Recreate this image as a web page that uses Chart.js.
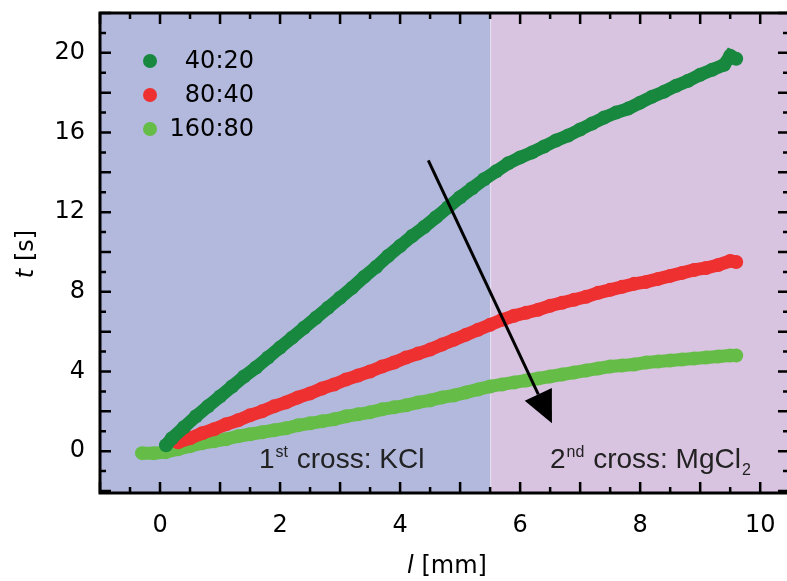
<!DOCTYPE html>
<html>
<head>
<meta charset="utf-8">
<script src="https://cdn.jsdelivr.net/npm/chart.js@4.4.1/dist/chart.umd.min.js"></script>
<style>
  html, body { margin: 0; padding: 0; background: #fff; overflow: hidden; }
  #wrap { width: 787px; height: 581px; overflow: hidden; }
  #chart { display: block; }
</style>
</head>
<body>
<div id="wrap"><canvas id="chart" width="796" height="581"></canvas></div>
<script>
// ---- data ----
const labels = ["40:20", "80:40", "160:80"];

const x4020 = [0.1, 0.2, 0.4, 0.6, 0.8, 1.0, 1.2, 1.4, 1.6, 1.8, 2.0, 2.2, 2.4, 2.6, 2.8, 3.0, 3.2, 3.4, 3.6, 3.8,
  4.0, 4.2, 4.4, 4.6, 4.8, 5.0, 5.2, 5.4, 5.6, 5.8, 6.0, 6.2, 6.4, 6.6, 6.8, 7.0, 7.2, 7.4, 7.6, 7.8,
  8.0, 8.2, 8.4, 8.6, 8.8, 9.0, 9.2, 9.4, 9.5, 9.6];
const y4020 = [0.3, 0.65, 1.2, 1.75, 2.25, 2.75, 3.25, 3.75, 4.2, 4.7, 5.2, 5.7, 6.2, 6.7, 7.2, 7.7, 8.2, 8.75, 9.25, 9.8,
  10.3, 10.8, 11.25, 11.75, 12.25, 12.75, 13.2, 13.65, 14.05, 14.45, 14.75, 15.0, 15.3, 15.6, 15.85, 16.15, 16.45, 16.75, 17.0, 17.2,
  17.5, 17.8, 18.05, 18.35, 18.6, 18.9, 19.15, 19.4, 19.85, 19.7];

const x8040 = [0.3, 0.5, 0.7, 0.9, 1.1, 1.3, 1.5, 1.7, 1.9, 2.1, 2.3, 2.5, 2.7, 2.9, 3.1, 3.3, 3.5, 3.7, 3.9, 4.1,
  4.3, 4.5, 4.7, 4.9, 5.1, 5.3, 5.5, 5.7, 5.9, 6.1, 6.3, 6.5, 6.7, 6.9, 7.1, 7.3, 7.5, 7.7, 7.9, 8.1,
  8.3, 8.5, 8.7, 8.9, 9.1, 9.3, 9.5, 9.6];
const y8040 = [0.45, 0.65, 0.9, 1.1, 1.35, 1.55, 1.8, 2.0, 2.25, 2.45, 2.7, 2.9, 3.15, 3.35, 3.6, 3.8, 4.0, 4.25, 4.45, 4.7,
  4.9, 5.1, 5.35, 5.6, 5.85, 6.1, 6.35, 6.6, 6.8, 6.95, 7.1, 7.3, 7.45, 7.6, 7.75, 7.95, 8.1, 8.25, 8.4, 8.5,
  8.65, 8.8, 8.95, 9.1, 9.2, 9.35, 9.55, 9.5];

const x16080 = [-0.3, -0.1, 0.1, 0.3, 0.5, 0.7, 0.9, 1.1, 1.3, 1.5, 1.7, 1.9, 2.1, 2.3, 2.5, 2.7, 2.9, 3.1, 3.3, 3.5,
  3.7, 3.9, 4.1, 4.3, 4.5, 4.7, 4.9, 5.1, 5.3, 5.5, 5.7, 5.9, 6.1, 6.3, 6.5, 6.7, 6.9, 7.1, 7.3, 7.5,
  7.7, 7.9, 8.1, 8.3, 8.5, 8.7, 8.9, 9.1, 9.3, 9.5, 9.6];
const y16080 = [-0.1, -0.1, -0.05, 0.1, 0.25, 0.4, 0.5, 0.6, 0.75, 0.85, 0.95, 1.05, 1.15, 1.3, 1.4, 1.5, 1.6, 1.75, 1.85, 1.95,
  2.1, 2.2, 2.3, 2.45, 2.55, 2.7, 2.8, 2.95, 3.1, 3.25, 3.35, 3.45, 3.55, 3.65, 3.75, 3.85, 3.95, 4.05, 4.15, 4.25,
  4.3, 4.35, 4.45, 4.5, 4.55, 4.6, 4.65, 4.7, 4.75, 4.8, 4.8];

const xTicks = [0, 2, 4, 6, 8, 10];
const yTicks = [0, 4, 8, 12, 16, 20];

// region split (1st cross / 2nd cross) and arrow (data units)
const splitX = 5.5;
const arrowFrom = [4.47, 14.6];
const arrowTo = [6.53, 1.4];

const colors = ["#17883e", "#ee3030", "#65bd47"];
const FONT = "'DejaVu Sans', sans-serif";       // axes, legend
const FONT_NOTE = "'Liberation Sans', Arial, sans-serif"; // region labels

function pts(xs, ys) {
  return xs.map((x, i) => ({ x: x, y: ys[i] }));
}

function series(i, xs, ys) {
  return {
    label: labels[i],
    data: pts(xs, ys),
    showLine: true,
    borderColor: colors[i],
    borderWidth: 13,
    backgroundColor: colors[i],
    pointRadius: 7,
    pointBorderWidth: 0,
    pointHoverRadius: 7
  };
}

// ---- background, frame, ticks, annotations ----
const decor = {
  id: "decor",
  beforeDatasetsDraw(chart) {
    const { ctx, chartArea: a, scales: { x } } = chart;
    const sx = x.getPixelForValue(splitX);
    ctx.save();
    ctx.fillStyle = "#b2b9dd";
    ctx.fillRect(a.left, a.top, sx - a.left, a.bottom - a.top);
    ctx.fillStyle = "#d8c4e0";
    ctx.fillRect(sx, a.top, a.right - sx, a.bottom - a.top);
    ctx.strokeStyle = "#e6e2f0";
    ctx.lineWidth = 1;
    ctx.beginPath();
    ctx.moveTo(sx + 0.5, a.top);
    ctx.lineTo(sx + 0.5, a.bottom);
    ctx.stroke();
    ctx.restore();
  },
  afterDatasetsDraw(chart) {
    const { ctx, chartArea: a, scales: { x, y } } = chart;
    ctx.save();

    // inward ticks on all four sides
    ctx.strokeStyle = "#000";
    ctx.lineWidth = 2.5;
    ctx.beginPath();
    for (let v = -1; v <= x.max; v += 0.5) {
      const px = x.getPixelForValue(v);
      const len = Math.abs(v - Math.round(v)) < 1e-6 ? 11 : 6;
      ctx.moveTo(px, a.bottom); ctx.lineTo(px, a.bottom - len);
      ctx.moveTo(px, a.top); ctx.lineTo(px, a.top + len);
    }
    for (let v = -2; v <= 22; v += 1) {
      const py = y.getPixelForValue(v);
      const len = v % 2 === 0 ? 11 : 6;
      ctx.moveTo(a.left, py); ctx.lineTo(a.left + len, py);
      ctx.moveTo(a.right, py); ctx.lineTo(a.right - len, py);
    }
    ctx.stroke();

    // frame
    ctx.lineWidth = 3;
    ctx.strokeRect(a.left, a.top, a.right - a.left, a.bottom - a.top);

    // arrow
    const x0 = x.getPixelForValue(arrowFrom[0]), y0 = y.getPixelForValue(arrowFrom[1]);
    const x1 = x.getPixelForValue(arrowTo[0]), y1 = y.getPixelForValue(arrowTo[1]);
    const ang = Math.atan2(y1 - y0, x1 - x0);
    const hl = 32, hw = 15;
    const bx = x1 - hl * Math.cos(ang), by = y1 - hl * Math.sin(ang);
    ctx.lineWidth = 3;
    ctx.beginPath();
    ctx.moveTo(x0, y0);
    ctx.lineTo(bx, by);
    ctx.stroke();
    ctx.fillStyle = "#000";
    ctx.beginPath();
    ctx.moveTo(x1, y1);
    ctx.lineTo(bx + hw * Math.sin(ang), by - hw * Math.cos(ang));
    ctx.lineTo(bx - hw * Math.sin(ang), by + hw * Math.cos(ang));
    ctx.closePath();
    ctx.fill();

    // legend
    ctx.textAlign = "right";
    ctx.textBaseline = "middle";
    ctx.font = "24px " + FONT;
    labels.forEach((lab, i) => {
      const ly = 61 + i * 34;
      ctx.fillStyle = colors[i];
      ctx.beginPath();
      ctx.arc(150, ly, 7, 0, Math.PI * 2);
      ctx.fill();
      ctx.fillStyle = "#000";
      ctx.fillText(lab, 254, ly + 1);
    });

    // region labels
    ctx.fillStyle = "#222";
    ctx.textAlign = "left";
    ctx.textBaseline = "alphabetic";
    let tx = 259;
    const base = 468;
    ctx.font = "28px " + FONT_NOTE;
    ctx.fillText("1", tx, base); tx += ctx.measureText("1").width + 1;
    ctx.font = "16px " + FONT_NOTE;
    ctx.fillText("st", tx, base - 11); tx += ctx.measureText("st").width + 1;
    ctx.font = "28px " + FONT_NOTE;
    ctx.fillText(" cross: KCl", tx, base);

    tx = 550;
    ctx.fillText("2", tx, base); tx += ctx.measureText("2").width + 1;
    ctx.font = "16px " + FONT_NOTE;
    ctx.fillText("nd", tx, base - 11); tx += ctx.measureText("nd").width + 1;
    ctx.font = "28px " + FONT_NOTE;
    ctx.fillText(" cross: MgCl", tx, base); tx += ctx.measureText(" cross: MgCl").width + 1;
    ctx.font = "16px " + FONT_NOTE;
    ctx.fillText("2", tx, base + 7);

    // axis titles
    ctx.fillStyle = "#000";
    const xl = "l", xr = " [mm]";
    ctx.font = "24px " + FONT;
    const wr = ctx.measureText(xr).width;
    ctx.font = "italic 24px " + FONT;
    const wl = ctx.measureText(xl).width;
    let sx = 447 - (wl + wr) / 2;
    ctx.fillText(xl, sx, 573);
    ctx.font = "24px " + FONT;
    ctx.fillText(xr, sx + wl, 573);

    ctx.translate(33, 254);
    ctx.rotate(-Math.PI / 2);
    ctx.font = "italic 24px " + FONT;
    const w1 = ctx.measureText("t").width;
    ctx.font = "24px " + FONT;
    const w2 = ctx.measureText(" [s]").width;
    sx = -(w1 + w2) / 2;
    ctx.font = "italic 24px " + FONT;
    ctx.fillText("t", sx, 0);
    ctx.font = "24px " + FONT;
    ctx.fillText(" [s]", sx + w1, 0);

    ctx.restore();
  }
};

const chart = new Chart(document.getElementById("chart"), {
  type: "scatter",
  data: {
    datasets: [
      series(0, x4020, y4020),
      series(1, x8040, y8040),
      series(2, x16080, y16080)
    ]
  },
  options: {
    responsive: false,
    animation: false,
    events: [],
    layout: { padding: { top: 13, right: 0, left: 0, bottom: 0 } },
    plugins: { legend: { display: false }, tooltip: { enabled: false } },
    scales: {
      x: {
        type: "linear",
        min: -1,
        max: 10.48,
        grid: { display: false, drawTicks: false },
        border: { display: false },
        ticks: { font: { family: FONT, size: 24 }, color: "#000", padding: 18 },
        afterBuildTicks: (s) => { s.ticks = xTicks.map(v => ({ value: v })); },
        afterFit: (s) => { s.height = 88; s.paddingLeft = 0; s.paddingRight = 0; }
      },
      y: {
        type: "linear",
        min: -2.1,
        max: 22,
        grid: { display: false, drawTicks: false },
        border: { display: false },
        ticks: { font: { family: FONT, size: 24 }, color: "#000", padding: 15 },
        afterBuildTicks: (s) => { s.ticks = yTicks.map(v => ({ value: v })); },
        afterFit: (s) => { s.width = 100; s.paddingTop = 0; s.paddingBottom = 0; }
      }
    }
  },
  plugins: [decor]
});
</script>
</body>
</html>
